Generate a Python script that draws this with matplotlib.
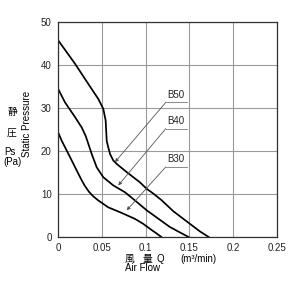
import numpy as np
import matplotlib
matplotlib.use("Agg")
import matplotlib.pyplot as plt

plt.rcParams['font.family'] = ['Liberation Sans', 'Noto Sans CJK JP', 'DejaVu Sans']

# fan curves: air flow (m3/min) vs static pressure (Pa)
b50_q = [0, 0.0194, 0.0346, 0.046, 0.0517, 0.0544, 0.0556, 0.0567, 0.0594,
         0.0631, 0.067, 0.0784, 0.0936, 0.1013, 0.1088, 0.118, 0.1316, 0.162, 0.172]
b50_p = [45.8, 40.3, 35.6, 32.1, 29.8, 27.1, 22.4, 21.4, 19.3,
         17.8, 17.0, 15.1, 12.7, 11.2, 10.1, 8.6, 6.0, 1.3, 0]

b40_q = [0, 0.008, 0.0194, 0.027, 0.0316, 0.0385, 0.0442, 0.0517, 0.0631,
         0.0765, 0.0879, 0.1013, 0.1279, 0.149]
b40_p = [34.5, 31.3, 27.9, 25.5, 23.5, 19.3, 16.2, 13.9, 12.0,
         10.4, 8.5, 6.2, 2.3, 0]

b30_q = [0, 0.0042, 0.0137, 0.0213, 0.026, 0.030, 0.035, 0.040, 0.046, 0.0574,
         0.0727, 0.088, 0.097, 0.105, 0.112, 0.118]
b30_p = [24.4, 22.4, 18.6, 15.5, 13.6, 12.1, 10.6, 9.5, 8.5, 6.9,
         5.6, 4.2, 3.1, 1.9, 0.9, 0]

labels = ["B50", "B40", "B30"]
label_y = [31.3, 25.2, 16.3]
tip_q = [0.065, 0.0688, 0.0784]
tip_p = [17.4, 12.0, 6.2]

xticks = [0, 0.05, 0.1, 0.15, 0.2, 0.25]
xticklabels = ["0", "0.05", "0.1", "0.15", "0.2", "0.25"]
yticks = [0, 10, 20, 30, 40, 50]

fig = plt.figure(figsize=(2.9, 2.9), dpi=100)
ax = fig.add_axes([58 / 290, 1 - 237 / 290, 219 / 290, 215 / 290])

ax.set_xlim(0, 0.25)
ax.set_ylim(0, 50)
ax.set_xticks(xticks)
ax.set_xticklabels(xticklabels)
ax.set_yticks(yticks)
ax.tick_params(length=0, labelsize=7, pad=4.5, colors='#222222')
ax.grid(True, color='#9a9a9a', linewidth=0.8)
for s in ax.spines.values():
    s.set_color('#333333')
    s.set_linewidth(0.9)

for q, p in [(b50_q, b50_p), (b40_q, b40_p), (b30_q, b30_p)]:
    ax.plot(q, p, color='black', linewidth=1.25, solid_joinstyle='round')

for lab, ly, tq, tp in zip(labels, label_y, tip_q, tip_p):
    ax.plot([0.123, 0.147], [ly, ly], color='#777777', linewidth=0.6)
    ax.annotate("", xy=(tq, tp), xytext=(0.123, ly),
                arrowprops=dict(arrowstyle='-|>', color='#555555', lw=0.6,
                                mutation_scale=5, shrinkA=0, shrinkB=0))
    ax.text(0.135, ly + 0.6, lab, fontsize=7, ha='center', va='bottom', color='#222222')

# axis captions
fig.text(12 / 290, 1 - 112 / 290, "静", fontsize=7, ha='center', va='center')
fig.text(12 / 290, 1 - 133 / 290, "圧", fontsize=7, ha='center', va='center')
fig.text(10 / 290, 1 - 152 / 290, "Ps", fontsize=7, ha='center', va='center')
fig.text(12 / 290, 1 - 162 / 290, "(Pa)", fontsize=7, ha='center', va='center')
fig.text(27 / 290, 1 - 124 / 290, "Static Pressure", fontsize=7, ha='center', va='center',
         rotation=90)

fig.text(130 / 290, 1 - 259 / 290, "風", fontsize=7, ha='center', va='center')
fig.text(147 / 290, 1 - 259 / 290, "量", fontsize=7, ha='center', va='center')
fig.text(160 / 290, 1 - 259 / 290, "Q", fontsize=7, ha='center', va='center')
fig.text(180 / 290, 1 - 259 / 290, "(m³/min)", fontsize=7, ha='left', va='center')
fig.text(125 / 290, 1 - 268 / 290, "Air Flow", fontsize=7, ha='left', va='center')

fig.savefig("out.png", dpi=100)
